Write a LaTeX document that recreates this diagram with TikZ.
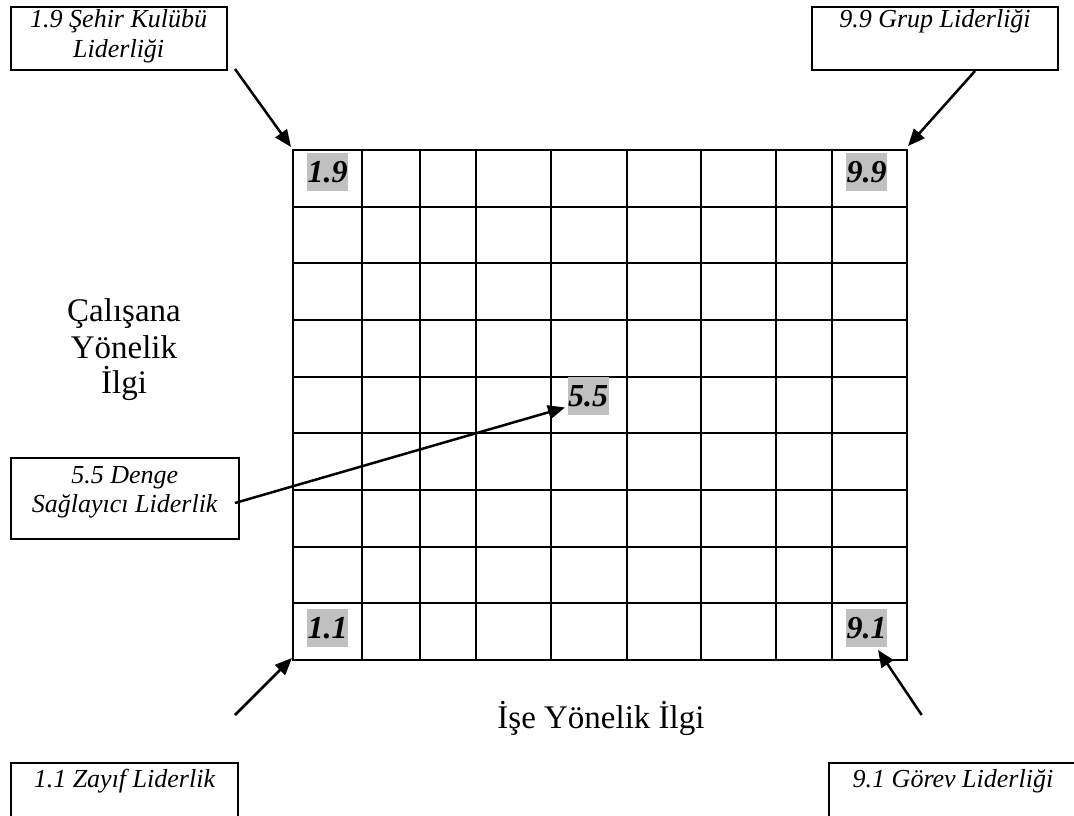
\documentclass[tikz,border=0pt]{standalone}
\usepackage{fontspec}
\setmainfont{Liberation Serif}
\usetikzlibrary{arrows.meta}
\definecolor{hl}{RGB}{192,192,192}
\begin{document}
\begin{tikzpicture}[x=1pt,y=-1pt,
  lbox/.style={draw, line width=2pt},
  ltext/.style={font=\fontsize{26}{30}\selectfont\itshape, inner sep=0pt, anchor=base},
  cell/.style={fill=hl, inner sep=0pt, minimum width=41pt, minimum height=38pt, font=\fontsize{32}{36}\selectfont\bfseries\itshape},
  axis/.style={font=\fontsize{33}{37}\selectfont, inner sep=0pt, anchor=base},
  arr/.style={line width=2.5pt, -{Triangle[length=17pt,width=14pt]}},
  gridline/.style={line width=2pt}]
\useasboundingbox (0,0) rectangle (1074,816);
\begin{scope}
\clip (0,0) rectangle (1074,816);
% grid
\foreach \x in {361.5,420,476,551,626.5,701,776,832}
  \draw[gridline] (\x,150) -- (\x,660);
\foreach \k in {1,...,8}
  \draw[gridline] (293,{150+56.667*\k}) -- (907,{150+56.667*\k});
\draw[gridline] (293,150) rectangle (907,660);
% highlighted cell labels
\node[cell] (c19) at (327.5,172) {1.9};
\node[cell] (c99) at (866.5,172) {9.9};
\node[cell] (c55) at (588,396) {5.5};
\node[cell] (c11) at (327.5,628) {1.1};
\node[cell] (c91) at (866.5,628) {9.1};
% label boxes
\draw[lbox] (10.7,6.7) rectangle (226.7,70);
\node[ltext] (t19a) at (118.7,28) {1.9 Şehir Kulübü};
\node[ltext] (t19b) at (118.7,58) {Liderliği};
\draw[lbox] (812.3,6.7) rectangle (1058.3,70);
\node[ltext] (t99) at (935,28) {9.9 Grup Liderliği};
\draw[lbox] (10.7,458.3) rectangle (238.7,539);
\node[ltext] (t55a) at (124.7,483) {5.5 Denge};
\node[ltext] (t55b) at (124.7,512) {Sağlayıcı Liderlik};
\draw[lbox] (10.7,762.7) rectangle (238,840);
\node[ltext] (t11) at (124.4,787) {1.1 Zayıf Liderlik};
\draw[lbox] (829,762.7) rectangle (1077,840);
\node[ltext] (t91) at (953,787) {9.1 Görev Liderliği};
\end{scope}
% axis texts
\node[axis] (ya) at (124,321.7) {Çalışana};
\node[axis] (yb) at (124,358.3) {Yönelik};
\node[axis] (yc) at (124,393.3) {İlgi};
\node[axis] (xa) at (601,728) {İşe Yönelik İlgi};
% arrows
\coordinate (s19) at (235,69);   \coordinate (e19) at (291,147);
\coordinate (s99) at (975,71);   \coordinate (e99) at (908,146);
\coordinate (s55) at (235,503);  \coordinate (e55) at (565,407.5);
\coordinate (s11) at (235,715);  \coordinate (e11) at (292,658);
\coordinate (s91) at (921.7,715);\coordinate (e91) at (878,650);
\draw[arr] (s19) -- (e19);
\draw[arr] (s99) -- (e99);
\draw[arr] (s55) -- (e55);
\draw[arr] (s11) -- (e11);
\draw[arr] (s91) -- (e91);
\end{tikzpicture}
\end{document}
